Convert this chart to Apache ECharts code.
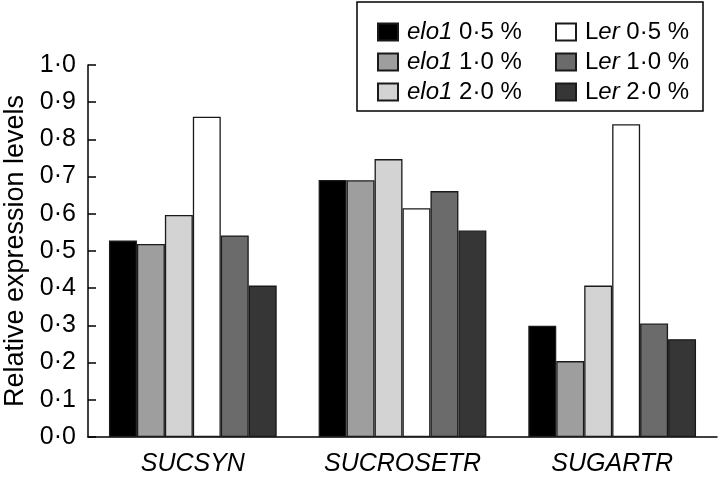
<!DOCTYPE html>
<html><head><meta charset="utf-8">
<script src="https://cdn.jsdelivr.net/npm/echarts@6/dist/echarts.min.js"></script>
<style>html,body{margin:0;padding:0;background:#fff}#c{width:720px;height:477px}</style>
</head><body><div id="c"></div>
<script>
const categories = ['SUCSYN', 'SUCROSETR', 'SUGARTR'];
const yTicks = ['0·0','0·1','0·2','0·3','0·4','0·5','0·6','0·7','0·8','0·9','1·0'];
const seriesNames = ['elo1 0·5 %', 'elo1 1·0 %', 'elo1 2·0 %', 'Ler 0·5 %', 'Ler 1·0 %', 'Ler 2·0 %'];
const elo1_05 = [0.528, 0.691, 0.299];
const elo1_10 = [0.519, 0.690, 0.204];
const elo1_20 = [0.597, 0.747, 0.407];
const ler_05 = [0.861, 0.615, 0.841];
const ler_10 = [0.542, 0.661, 0.305];
const ler_20 = [0.407, 0.555, 0.263];
const values = [elo1_05, elo1_10, elo1_20, ler_05, ler_10, ler_20];
const colors = ['#000000', '#9e9e9e', '#d3d3d3', '#ffffff', '#6b6b6b', '#363636'];

const FONT = '"Liberation Sans", Arial, Helvetica, sans-serif';
const chart = echarts.init(document.getElementById('c'), null, {renderer: 'canvas'});

function legendFmt(name) {
  const parts = name.split(' ');
  const rest = parts.slice(1).join(' ');
  if (parts[0] === 'elo1') return '{i|elo1} ' + rest;
  return 'L{i|er} ' + rest;
}
const legendText = {
  fontFamily: FONT, fontSize: 24, color: '#000', lineHeight: 26, padding: [0, 0, 0, 4],
  rich: { i: { fontStyle: 'italic', fontFamily: FONT, fontSize: 24, color: '#000' } }
};

chart.setOption({
  animation: false,
  grid: { left: 88, right: 3, top: 65, bottom: 40, containLabel: false, outerBoundsMode: 'none' },
  legend: [
    { data: seriesNames.slice(0, 3), orient: 'vertical', left: 372, top: 14, itemWidth: 20, itemHeight: 17,
      itemGap: 4, icon: 'rect', formatter: legendFmt, textStyle: legendText, selectedMode: false },
    { data: seriesNames.slice(3), orient: 'vertical', left: 550, top: 14, itemWidth: 20, itemHeight: 17,
      itemGap: 4, icon: 'rect', formatter: legendFmt, textStyle: legendText, selectedMode: false }
  ],
  graphic: [{ type: 'rect', shape: { x: 357, y: 2, width: 346, height: 109 },
    style: { fill: 'none', stroke: '#000', lineWidth: 1.5 }, z: 10 }],
  xAxis: {
    type: 'category', data: categories,
    axisLine: { lineStyle: { color: '#000', width: 1.5 } },
    axisTick: { inside: true, length: 8, lineStyle: { color: '#000', width: 1.5 } },
    axisLabel: { fontFamily: FONT, fontSize: 25, fontStyle: 'italic', color: '#000', margin: 15 }
  },
  yAxis: {
    type: 'value', min: 0, max: 1, interval: 0.1,
    name: 'Relative expression levels', nameLocation: 'middle', nameGap: 59,
    nameTextStyle: { fontFamily: FONT, fontSize: 27, color: '#000' },
    axisLine: { show: true, lineStyle: { color: '#000', width: 1.5 } },
    axisTick: { show: true, inside: true, length: 8, lineStyle: { color: '#000', width: 1.5 } },
    splitLine: { show: false },
    axisLabel: { fontFamily: FONT, fontSize: 25, color: '#000', margin: 12,
      formatter: (v) => yTicks[Math.round(v * 10)] }
  },
  series: seriesNames.map((n, i) => ({
    name: n, type: 'bar', data: values[i], barGap: '0%', barCategoryGap: '20%',
    itemStyle: { color: colors[i], borderColor: '#1a1a1a', borderWidth: 1.3 }
  }))
});
</script></body></html>
